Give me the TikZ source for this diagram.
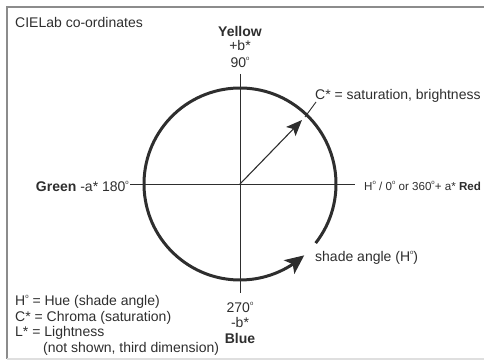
\documentclass[tikz,border=0pt]{standalone}
\usepackage{fontspec}
\setmainfont{Liberation Sans}
\usetikzlibrary{arrows.meta,bending,calc}
\definecolor{ink}{HTML}{2E2E2E}
\definecolor{frame}{HTML}{8C8C8C}
\newcommand\dg{\raisebox{0.95ex}{\fontsize{6}{6}\selectfont o}}
\begin{document}
\begin{tikzpicture}[x=1pt,y=1pt,
  every node/.style={text=ink, inner sep=0pt, font=\fontsize{14}{15.5}\selectfont},
  lbl/.style={anchor=base west},
  clbl/.style={anchor=base, align=center},
  axis/.style={draw=ink, line width=0.9pt},
  ring/.style={draw=ink, line width=3pt, -{Stealth[length=19pt,width=17pt,inset=4.5pt,flex]}},
  chroma/.style={draw=ink, line width=1.1pt, -{Stealth[length=16pt,width=13pt,inset=3.5pt]}},
  leader/.style={draw=ink, line width=0.9pt},
  framel/.style={draw=frame, line width=1.6pt}]
\useasboundingbox (0,0) rectangle (484,361);
% frame
\coordinate (fTR) at (486,354);
\coordinate (fTL) at (7,354);
\coordinate (fBL) at (7,2);
\coordinate (fBR) at (486,2);
\draw[framel] (fTR) -- (fTL) -- (fBL);
\draw[draw=gray!25, line width=1pt] (fBL) -- (fBR);
% centre and axes
\coordinate (O) at (240,177);
\coordinate (vt) at (240,287);
\coordinate (vb) at (240,68);
\coordinate (hl) at (130,177);
\coordinate (hr) at (355,177);
\draw[axis] (vt) -- (vb);
\draw[axis] (hl) -- (hr);
% circle with arrow
\coordinate (arcS) at ($(O)+(-38:96)$);
\draw[ring] (arcS) arc[start angle=-38, end angle=312, radius=96];
% chroma arrow and leader
\coordinate (cTip) at (302,241);
\coordinate (ldA) at (305,244);
\coordinate (ldB) at (316,259);
\draw[chroma] (O) -- (cTip);
\draw[leader] (ldA) -- (ldB);
% labels
\node[lbl] (title) at (15,333) {CIELab co-ordinates};
\node[clbl] (yel) at (240,324.5) {\textbf{Yellow}};
\node[clbl] (pb) at (240,310.5) {+b*};
\node[clbl] (n90) at (240,293.5) {90\dg};
\node[clbl] (n270) at (240,48) {270\dg};
\node[clbl] (mb) at (240,33) {-b*};
\node[clbl] (blue) at (240,17) {\textbf{Blue}};
\node[anchor=base east] (green) at (129,169.5) {\textbf{Green} -a* 180\dg};
\node[lbl, font=\fontsize{11.6}{13}\selectfont] (red) at (364,170.3) {H\dg\ / 0\dg\ or 360\dg+ a* \textbf{Red}};
\node[lbl] (cs) at (315,261) {C* = saturation, brightness};
\node[lbl] (sa) at (315,99) {shade angle (H\dg)};
\node[lbl] (l1) at (15,55) {H\dg\ = Hue (shade angle)};
\node[lbl] (l2) at (15,39.5) {C* = Chroma (saturation)};
\node[lbl] (l3) at (15,24) {L* = Lightness};
\node[lbl] (l4) at (43,8.5) {(not shown, third dimension)};
\end{tikzpicture}
\end{document}
